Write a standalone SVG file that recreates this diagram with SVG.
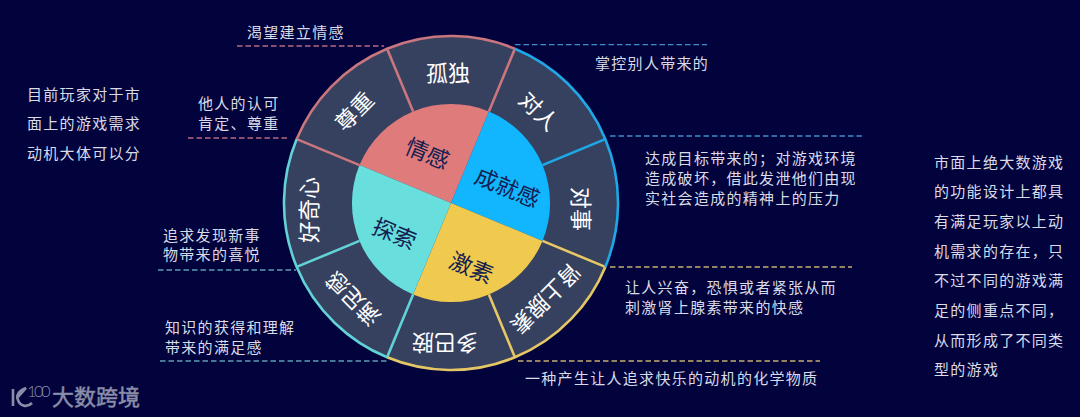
<svg xmlns="http://www.w3.org/2000/svg" width="1080" height="417" viewBox="0 0 1080 417">
<style>
text{font-family:"Noto Sans CJK SC","Liberation Sans",sans-serif}
.t{font-size:15px;letter-spacing:1.3px;fill:#d9dbe8}
.r{font-size:22px;fill:#fff;text-anchor:middle;dominant-baseline:central}
.i{font-size:22.5px;fill:#13204f;text-anchor:middle;dominant-baseline:central}
.d{fill:none;stroke-width:1.3;stroke-dasharray:5.5 3}
.a{fill:none;stroke-width:2.6}
.s{stroke-width:2.6;fill:none}
.red{stroke:#c9767e}.blue{stroke:#1ea8e8}.yel{stroke:#e6c766}.cya{stroke:#63d2d6}
</style>
<rect width="1080" height="417" fill="#02033c"/>
<g id="ring"><circle cx="451" cy="203" r="167" fill="#36415f"/></g>
<g id="connectors">
<path class="d" stroke="#b8697f" d="M237 46H384"/>
<path class="d" stroke="#b8697f" d="M188 138H290"/>
<path class="d" stroke="#3c8fca" d="M515 44.7H707"/>
<path class="d" stroke="#3c8fca" d="M610 136H862"/>
<path class="d" stroke="#5c9db4" d="M158 270H296"/>
<path class="d" stroke="#5c9db4" d="M160 361H387"/>
<path class="d" stroke="#c8ae6e" d="M610 267H852"/>
<path class="d" stroke="#c8ae6e" d="M518 361H820"/>
</g>
<g id="quadrants">
<path id="q-emotion" fill="#e07b7c" d="M451 203L359.5 165.1A99 99 0 0 1 488.9 111.5Z"/>
<path id="q-achieve" fill="#12b6ff" d="M451 203L488.9 111.5A99 99 0 0 1 542.5 240.9Z"/>
<path id="q-excite" fill="#f0c94f" d="M451 203L542.5 240.9A99 99 0 0 1 413.1 294.5Z"/>
<path id="q-explore" fill="#68dfdd" d="M451 203L413.1 294.5A99 99 0 0 1 359.5 165.1Z"/>
</g>
<g id="spokes">
<path class="s red" d="M488.9 111.5L514.9 48.7M413.1 111.5L387.1 48.7M359.5 165.1L296.7 139.1"/>
<path class="s blue" d="M542.5 165.1L605.3 139.1"/>
<path class="s yel" d="M542.5 240.9L605.3 266.9M488.9 294.5L514.9 357.3"/>
<path class="s cya" d="M413.1 294.5L387.1 357.3M359.5 240.9L296.7 266.9"/>
</g>
<g id="arcs">
<path class="a red" d="M296.7 139.1A167 167 0 0 1 514.9 48.7"/>
<path class="a blue" d="M514.9 48.7A167 167 0 0 1 605.3 266.9"/>
<path class="a yel" d="M605.3 266.9A167 167 0 0 1 387.1 357.3"/>
<path class="a cya" d="M387.1 357.3A167 167 0 0 1 296.7 139.1"/>
</g>
<g id="n-qingan"><text class="i" transform="translate(428 152) rotate(22.5)">情感</text></g>
<g id="n-chengjiu"><text class="i" transform="translate(508 186) rotate(22.5)">成就感</text></g>
<g id="n-tansuo"><text class="i" transform="translate(395 232) rotate(22.5)">探索</text></g>
<g id="n-jisu"><text class="i" transform="translate(472 266) rotate(22.5)">激素</text></g>
<g id="n-gudu"><text class="r" transform="translate(448 71)">孤独</text></g>
<g id="n-duiren"><text class="r" transform="translate(540 110) rotate(45)">对人</text></g>
<g id="n-duishi"><text class="r" transform="translate(583 209) rotate(90)">对事</text></g>
<g id="n-shenshangxiansu"><text class="r" transform="translate(547 300) rotate(135)">肾上腺素</text></g>
<g id="n-duobaan"><text class="r" transform="translate(445 345) rotate(180)">多巴胺</text></g>
<g id="n-manzugan"><text class="r" transform="translate(352 300) rotate(225)">满足感</text></g>
<g id="n-haoqixin"><text class="r" transform="translate(307 210) rotate(270)">好奇心</text></g>
<g id="n-zunzhong"><text class="r" transform="translate(353 110) rotate(315)">尊重</text></g>
<g id="labels">
<text class="t" x="27" y="99.5">目前玩家对于市<tspan x="27" dy="29.5">面上的游戏需求</tspan><tspan x="27" dy="29.5">动机大体可以分</tspan></text>
<text class="t" x="247" y="37.5">渴望建立情感</text>
<text class="t" x="198" y="108.5">他人的认可<tspan x="198" dy="20">肯定、尊重</tspan></text>
<text class="t" x="595" y="68.5">掌控别人带来的</text>
<text class="t" x="645" y="163.5">达成目标带来的；对游戏环境<tspan x="645" dy="20">造成破坏，借此发泄他们由现</tspan><tspan x="645" dy="20">实社会造成的精神上的压力</tspan></text>
<text class="t" x="625" y="292.5">让人兴奋，恐惧或者紧张从而<tspan x="625" dy="20.5">刺激肾上腺素带来的快感</tspan></text>
<text class="t" x="525" y="383.5">一种产生让人追求快乐的动机的化学物质</text>
<text class="t" x="163" y="240.5">追求发现新事<tspan x="163" dy="19.5">物带来的喜悦</tspan></text>
<text class="t" x="165" y="332.5">知识的获得和理解<tspan x="165" dy="20">带来的满足感</tspan></text>
<text class="t" x="934" y="167.5">市面上绝大数游戏<tspan x="934" dy="29.7">的功能设计上都具</tspan><tspan x="934" dy="29.7">有满足玩家以上动</tspan><tspan x="934" dy="29.7">机需求的存在，只</tspan><tspan x="934" dy="29.7">不过不同的游戏满</tspan><tspan x="934" dy="29.7">足的侧重点不同，</tspan><tspan x="934" dy="29.7">从而形成了不同类</tspan><tspan x="934" dy="29.7">型的游戏</tspan></text>
</g>
<g id="logo">
<path d="M13 389V406M26 388C18 391 16 396 18 400C20 406 27 408 32 403M18 397L26 388" fill="none" stroke="#8a8da8" stroke-width="2.6"/>
<text x="27" y="397" font-size="16.5" font-weight="300" letter-spacing="-2.6" fill="#8a8da8" style="font-family:Lato,'Liberation Sans',sans-serif">100</text>
<text x="52" y="405" font-size="22" fill="#8a8da8" stroke="#8a8da8" stroke-width="0.5">大数跨境</text>
</g>
</svg>
